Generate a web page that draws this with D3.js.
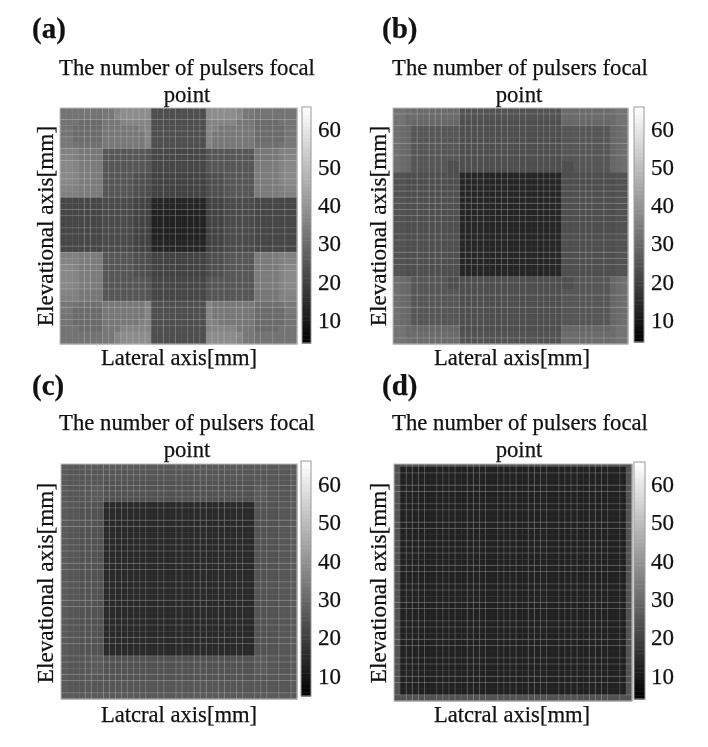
<!DOCTYPE html>
<html>
<head>
<meta charset="utf-8">
<script src="https://d3js.org/d3.v7.min.js"></script>
<style>
  body { margin: 0; background: #fff; }
  text { font-family: "Liberation Serif", serif; fill: #111; stroke: #111; stroke-width: 0.25px; }
  .heat { filter: blur(0.6px); }
  .words { filter: blur(0.35px); }
</style>
</head>
<body>
<div id="chart"></div>
<script>
// labels
var panelLabels = ["(a)", "(b)", "(c)", "(d)"];
var titleLines = ["The number of pulsers focal", "point"];
var xLabel = "Lateral axis[mm]";
var xLabelsByPanel = [xLabel, xLabel, "Latcral axis[mm]", "Latcral axis[mm]"];
var yLabel = "Elevational axis[mm]";
var tickLabels = [10, 20, 30, 40, 50, 60];
var colorRange = [4, 66];

// upper left quarter of every map, 20 x 20, the rest is mirrored
var quarterA = [
  [32,32,32,32,32,32,32,33,33,36,38,38,38,38,38,23,23,23,23,23],
  [32,32,32,32,32,32,32,33,33,37,38,38,38,38,38,23,23,23,23,23],
  [32,32,32,30,30,30,30,33,33,33,36,36,36,36,36,23,23,23,23,23],
  [32,32,30,30,30,30,30,33,33,33,33,33,33,35,36,23,23,23,23,23],
  [32,32,30,30,30,30,30,33,33,33,33,33,33,33,36,23,23,23,23,23],
  [33,33,30,30,30,30,30,33,33,33,33,33,33,33,36,23,23,23,23,23],
  [33,33,32,31,31,31,31,33,33,33,33,33,33,33,36,23,23,23,23,23],
  [35,35,35,33,33,33,33,25,25,25,25,25,25,25,25,21,21,21,21,21],
  [36,36,35,33,33,33,33,25,25,25,25,25,25,25,25,21,21,21,21,21],
  [37,37,36,34,34,34,34,25,25,25,25,25,25,25,25,21,21,21,21,21],
  [37,37,36,34,34,34,34,25,25,25,25,25,25,25,25,21,21,21,21,21],
  [37,37,36,34,34,34,34,25,25,25,25,25,23,23,23,20,20,20,20,20],
  [37,37,36,34,34,34,34,25,25,25,25,25,23,23,23,20,20,20,20,20],
  [36,36,35,34,34,34,34,25,25,25,25,25,23,23,23,20,20,20,20,20],
  [35,35,35,34,34,34,34,25,25,25,25,25,23,23,23,20,20,20,20,20],
  [21,21,21,21,21,21,21,22,22,22,22,22,20,20,20,13,13,13,13,13],
  [21,21,21,21,21,21,21,22,22,22,22,22,20,20,20,13,13,13,13,13],
  [21,21,21,21,21,21,21,22,22,22,22,22,20,20,20,12,12,12,12,12],
  [21,21,21,21,21,21,21,22,22,22,22,22,20,20,20,12,12,12,12,12],
  [21,21,21,21,21,21,21,22,22,22,22,22,20,20,20,12,12,12,12,12]
];
var quarterB = [
  [32,32,31,30,30,30,30,30,30,30,30,24,24,24,24,24,24,24,24,24],
  [32,32,30,30,30,30,30,30,30,30,30,24,24,24,24,24,24,24,24,24],
  [32,32,30,29,29,29,29,29,29,29,29,23,23,23,23,23,23,23,23,23],
  [31,30,29,25,25,25,25,25,25,25,25,23,23,23,23,23,23,23,23,23],
  [31,30,29,25,25,25,25,25,25,25,25,23,23,23,23,23,23,23,23,23],
  [31,30,29,25,25,25,25,25,25,25,25,23,23,23,23,23,23,23,23,23],
  [31,30,29,25,25,25,25,25,25,25,25,23,23,23,23,23,23,23,23,23],
  [31,30,29,25,25,25,25,25,25,25,25,23,23,23,23,23,23,23,23,23],
  [31,30,29,25,25,25,25,25,25,25,25,23,23,23,23,23,23,23,23,23],
  [31,30,29,25,25,25,25,25,25,23,23,23,23,23,23,23,23,23,23,23],
  [31,30,29,25,25,25,25,25,25,23,23,23,23,23,23,23,23,23,23,23],
  [24,24,23,23,23,23,23,23,23,23,23,13,13,13,13,13,13,13,13,13],
  [24,24,23,23,23,23,23,23,23,23,23,13,13,13,13,13,13,13,13,13],
  [24,24,23,23,23,23,23,23,23,23,23,13,13,13,13,13,13,13,13,13],
  [24,24,23,23,23,23,23,23,23,23,23,13,13,13,13,13,13,13,13,13],
  [24,24,23,23,23,23,23,23,23,23,23,13,13,13,13,13,13,13,13,13],
  [24,24,23,23,23,23,23,23,23,23,23,13,13,13,13,13,13,13,13,13],
  [24,24,23,23,23,23,23,23,23,23,23,13,13,13,13,13,13,13,13,13],
  [24,24,23,23,23,23,23,23,23,23,23,13,13,13,13,13,13,13,13,13],
  [24,24,23,23,23,23,23,23,23,23,23,13,13,13,13,13,13,13,13,13]
];
var quarterC = [
  [26,26,26,26,26,26,26,26,26,26,26,26,26,26,26,26,26,26,26,26],
  [26,25,25,25,25,25,25,25,25,25,25,25,25,25,25,25,25,25,25,25],
  [26,25,25,25,25,25,25,25,25,25,25,25,25,25,25,25,25,25,25,25],
  [26,25,25,25,25,25,25,24,24,24,24,24,24,24,24,24,24,24,24,24],
  [26,25,25,25,25,26,26,24,24,24,24,24,24,24,24,24,24,24,24,24],
  [26,25,25,25,25,26,26,24,24,24,24,24,24,24,24,24,24,24,24,24],
  [26,25,25,25,25,26,26,24,24,24,24,24,24,24,24,24,24,24,24,24],
  [26,25,25,24,24,24,24,14,14,14,14,14,14,14,14,14,14,14,14,14],
  [26,25,25,24,24,24,24,14,14,14,14,14,14,14,14,14,14,14,14,14],
  [26,25,25,24,24,24,24,14,14,14,14,14,14,14,14,14,14,14,14,14],
  [26,25,25,24,24,24,24,14,14,14,14,14,14,14,14,14,14,14,14,14],
  [26,25,25,24,24,24,24,14,14,14,14,14,14,14,14,14,14,14,14,14],
  [26,25,25,24,24,24,24,14,14,14,14,14,14,14,14,14,14,14,14,14],
  [26,25,25,24,24,24,24,14,14,14,14,14,14,14,14,14,14,14,14,14],
  [26,25,25,24,24,24,24,14,14,14,14,14,14,14,14,14,14,14,14,14],
  [26,25,25,24,24,24,24,14,14,14,14,14,14,14,14,14,14,14,14,14],
  [26,25,25,24,24,24,24,14,14,14,14,14,14,14,14,14,14,14,14,14],
  [26,25,25,24,24,24,24,14,14,14,14,14,14,14,14,14,14,14,14,14],
  [26,25,25,24,24,24,24,14,14,14,14,14,14,14,14,14,14,14,14,14],
  [26,25,25,24,24,24,24,14,14,14,14,14,14,14,14,14,14,14,14,14]
];
var quarterD = [
  [24,24,24,24,24,24,24,24,24,24,24,24,24,24,24,24,24,24,24,24],
  [24,12,12,12,12,12,12,12,12,12,12,12,12,12,12,12,12,12,12,12],
  [24,12,12,12,12,12,12,12,12,12,12,12,12,12,12,12,12,12,12,12],
  [24,12,12,12,12,12,12,12,12,12,12,12,12,12,12,12,12,12,12,12],
  [24,12,12,12,12,12,12,12,12,12,12,12,12,12,12,12,12,12,12,12],
  [24,12,12,12,12,12,12,12,12,12,12,12,12,12,12,12,12,12,12,12],
  [24,12,12,12,12,12,12,12,12,12,12,12,12,12,12,12,12,12,12,12],
  [24,12,12,12,12,12,12,12,12,12,12,12,12,12,12,12,12,12,12,12],
  [24,12,12,12,12,12,12,12,12,12,12,12,12,12,12,12,12,12,12,12],
  [24,12,12,12,12,12,12,12,12,12,12,12,12,12,12,12,12,12,12,12],
  [24,12,12,12,12,12,12,12,12,12,12,12,12,12,12,12,12,12,12,12],
  [24,12,12,12,12,12,12,12,12,12,12,12,12,12,12,12,12,12,12,12],
  [24,12,12,12,12,12,12,12,12,12,12,12,12,12,12,12,12,12,12,12],
  [24,12,12,12,12,12,12,12,12,12,12,12,12,12,12,12,12,12,12,12],
  [24,12,12,12,12,12,12,12,12,12,12,12,12,12,12,12,12,12,12,12],
  [24,12,12,12,12,12,12,12,12,12,12,12,12,12,12,12,12,12,12,12],
  [24,12,12,12,12,12,12,12,12,12,12,12,12,12,12,12,12,12,12,12],
  [24,12,12,12,12,12,12,12,12,12,12,12,12,12,12,12,12,12,12,12],
  [24,12,12,12,12,12,12,12,12,12,12,12,12,12,12,12,12,12,12,12],
  [24,12,12,12,12,12,12,12,12,12,12,12,12,12,12,12,12,12,12,12]
];

// grid lines that come out stronger in the picture
var strongXA = [4,5,7,8,9,10,11,12,13,14,17,19,21,22,23,25,26,27,29,30,32,33,35,37];
var strongYA = [2,4,5,7,8,9,11,12,13,15,17,18,20,21,23,24,26,27,29,30,32,33,35,36];
var strongXB = [4,6,7,8,11,12,13,14,15,17,18,19,21,22,24,25,26,27,28,31,32,33,35];
var strongYB = [1,3,6,8,12,13,14,15,16,17,18,19,21,22,24,25,26,28,29,31,33,36,38];
var strongXC = [4,5,7,8,9,10,11,12,13,14,16,17,19,20,22,23,24,26,27,29,30,32,33,34,36,38];
var strongYC = [2,4,5,7,8,10,11,13,14,15,17,18,20,21,23,24,26,27,29,30,32,33,35,36,38];
var strongXD = [2,3,4,5,7,8,9,10,12,13,14,15,17,18,19,20,22,23,24,25,27,28,29,30,32,33,34,35,37];
var strongYD = [2,4,5,7,8,10,11,13,14,15,17,18,20,21,23,24,26,27,29,30,32,33,35,36,38];

var quarters = [quarterA, quarterB, quarterC, quarterD];
var strongX = [strongXA, strongXB, strongXC, strongXD];
var strongY = [strongYA, strongYB, strongYC, strongYD];

// layout of the four panels
var layout = [
  {x0: 60, x1: 297, y0: 108, y1: 344, rowBreak: 7, yBreak: 148.3, bx0: 302, bx1: 311, by0: 107, by1: 343, tick: 318, label: [32, 38], title: 187, titleY: 75, point: 187, xl: 179, xlY: 365, yl: 53, ylC: 226, y60: 129, y10: 320},
  {x0: 393, x1: 628, y0: 108, y1: 344, rowBreak: 11, yBreak: 172.7, bx0: 634, bx1: 644, by0: 107, by1: 342, tick: 651, label: [382, 38], title: 520, titleY: 75, point: 519, xl: 512, xlY: 365, yl: 386, ylC: 226, y60: 129, y10: 320},
  {x0: 61, x1: 297, y0: 464, y1: 699, rowBreak: 7, yBreak: 501.7, bx0: 301, bx1: 311, by0: 461, by1: 696, tick: 318, label: [32, 395], title: 187, titleY: 430, point: 187, xl: 179, xlY: 722, yl: 53, ylC: 583, y60: 484, y10: 676},
  {x0: 394, x1: 632, y0: 464, y1: 701, rowBreak: 1, yBreak: 466.7, bx0: 634, bx1: 645, by0: 462, by1: 699, tick: 651, label: [382, 395], title: 520, titleY: 430, point: 519, xl: 512, xlY: 722, yl: 386, ylC: 583, y60: 484, y10: 676}
];

var n = 39;
var gray = d3.scaleLinear().domain(colorRange).range(["#000", "#fff"]);

var svg = d3.select("#chart").append("svg")
  .attr("width", 708).attr("height", 747);

function mirror(q) {
  var top = q.map(function(r) { return r.concat(r.slice(0, 19).reverse()); });
  return top.concat(top.slice(0, 19).reverse());
}

layout.forEach(function(p, k) {
  var g = svg.append("g");
  var heat = g.append("g").attr("class", "heat");
  var words = g.append("g").attr("class", "words");
  var cells = mirror(quarters[k]);

  var x = d3.scaleLinear().domain([0, n]).range([p.x0, p.x1]);
  var y = d3.scaleLinear().domain([0, p.rowBreak, n]).range([p.y0, p.yBreak, p.y1]);

  cells.forEach(function(row, r) {
    heat.selectAll(null).data(row).enter().append("rect")
      .attr("x", function(d, c) { return x(c); })
      .attr("y", y(r))
      .attr("width", x(1) - x(0) + 0.4)
      .attr("height", y(r + 1) - y(r) + 0.4)
      .attr("fill", function(d) { return gray(d); });
  });

  // grid
  d3.range(1, n).forEach(function(i) {
    var sx = strongX[k].indexOf(i) >= 0, sy = strongY[k].indexOf(i) >= 0;
    heat.append("line").attr("x1", x(i)).attr("x2", x(i)).attr("y1", p.y0).attr("y2", p.y1)
      .attr("stroke", "#fff").attr("stroke-opacity", sx ? 0.2 : 0.03);
    heat.append("line").attr("y1", y(i)).attr("y2", y(i)).attr("x1", p.x0).attr("x2", p.x1)
      .attr("stroke", "#fff").attr("stroke-opacity", sy ? 0.2 : 0.03);
  });
  heat.append("rect").attr("x", p.x0).attr("y", p.y0)
    .attr("width", p.x1 - p.x0).attr("height", p.y1 - p.y0)
    .attr("fill", "none").attr("stroke", "#bbb");

  // colorbar
  var c = d3.scaleLinear().domain([10, 60]).range([p.y10, p.y60]);
  var bar = d3.scaleLinear().domain(colorRange).range([p.by1, p.by0]);
  g.selectAll(null).data(d3.range(colorRange[0], colorRange[1], 1)).enter().append("rect")
    .attr("x", p.bx0).attr("width", p.bx1 - p.bx0)
    .attr("y", function(d) { return bar(d + 1); })
    .attr("height", bar(0) - bar(1) + 0.5)
    .attr("fill", function(d) { return gray(d + 0.5); });
  g.append("rect").attr("x", p.bx0).attr("y", p.by0)
    .attr("width", p.bx1 - p.bx0).attr("height", p.by1 - p.by0)
    .attr("fill", "none").attr("stroke", "#999");

  var axis = d3.axisRight(c).tickValues(tickLabels).tickSize(0).tickPadding(p.tick - p.bx1);
  var ag = words.append("g").attr("transform", "translate(" + p.bx1 + ",0)").call(axis);
  ag.select(".domain").remove();
  ag.selectAll("text").style("font-size", "23px").attr("dy", "0.32em");
  ag.selectAll(".tick").append("line").attr("x1", -1.5).attr("x2", 0)
    .attr("y1", -7).attr("y2", -7).attr("stroke", "#555");

  // texts
  words.append("text").attr("x", p.label[0]).attr("y", p.label[1])
    .style("font-size", "29px").style("font-weight", "bold").text(panelLabels[k]);
  words.append("text").attr("x", p.title).attr("y", p.titleY).attr("text-anchor", "middle")
    .style("font-size", "22.7px").text(titleLines[0]);
  words.append("text").attr("x", p.point).attr("y", p.titleY + 26.5).attr("text-anchor", "middle")
    .style("font-size", "22.7px").text(titleLines[1]);
  words.append("text").attr("x", p.xl).attr("y", p.xlY).attr("text-anchor", "middle")
    .style("font-size", "22.6px").text(xLabelsByPanel[k]);
  words.append("text").attr("transform", "translate(" + p.yl + "," + p.ylC + ") rotate(-90)")
    .attr("text-anchor", "middle").style("font-size", "23.2px").text(yLabel);
});
</script>
</body>
</html>
